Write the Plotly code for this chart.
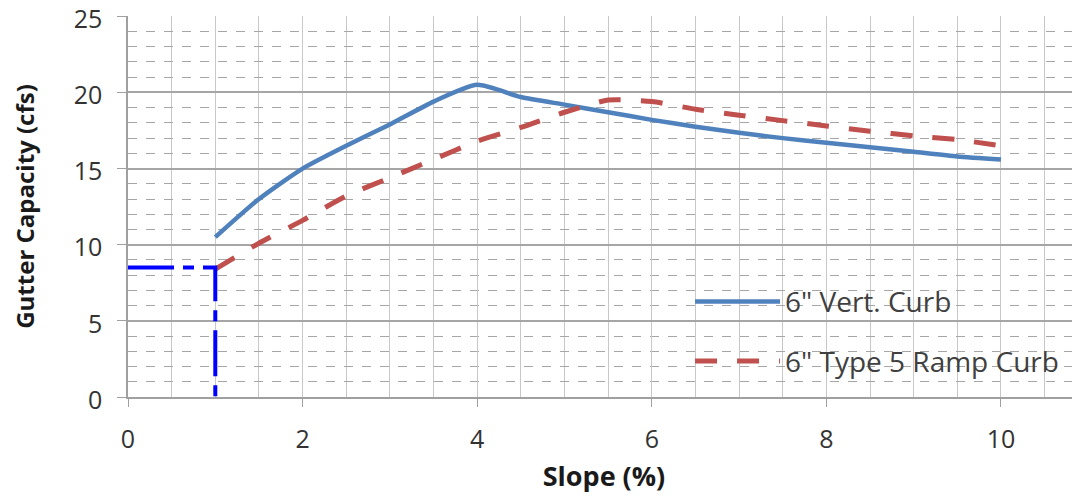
import plotly.graph_objects as go

slope = [1, 1.5, 2, 2.5, 3, 3.5, 4, 4.5, 5, 5.5, 6, 6.5, 7, 7.5, 8, 8.5, 9, 9.5, 10]
vert_curb = [10.5, 13.0, 15.0, 16.5, 17.9, 19.4, 20.5, 19.7, 19.2, 18.7, 18.2, 17.75, 17.35, 17.0, 16.7, 16.4, 16.1, 15.8, 15.6]
ramp_curb = [8.4, 10.1, 11.6, 13.2, 14.4, 15.6, 16.8, 17.7, 18.7, 19.5, 19.4, 18.9, 18.5, 18.15, 17.8, 17.45, 17.15, 16.9, 16.5]
guide_x = [0, 1, 1]
guide_y = [8.5, 8.5, 0]

FONT = "Open Sans"

fig = go.Figure()
fig.add_trace(go.Scatter(x=slope, y=vert_curb, mode="lines", name='6" Vert. Curb',
                         line=dict(color="#4F81BD", width=4.5, shape="spline", smoothing=0.6),
                         legendgroup="a"))
fig.add_trace(go.Scatter(x=slope, y=ramp_curb, mode="lines", name='6" Type 5 Ramp Curb',
                         line=dict(color="#C0504D", width=5, dash="22px,20px", shape="spline", smoothing=0.6),
                         legendgroup="b"))
fig.add_trace(go.Scatter(x=guide_x, y=guide_y, mode="lines", showlegend=False,
                         line=dict(color="#0000FF", width=4, dash="46px,9px,11px,9px")))

fig.update_layout(
    width=1080, height=500,
    margin=dict(l=120, r=8, t=8, b=111, autoexpand=False),
    paper_bgcolor="white", plot_bgcolor="white",
    font=dict(family=FONT, size=25, color="#333333"),
    showlegend=True,
    legend=dict(x=0.5904, y=0.3155, xanchor="left", yanchor="top",
                bgcolor="rgba(0,0,0,0)", font=dict(family=FONT, size=28, color="#404040"),
                itemwidth=85, tracegroupgap=20, traceorder="grouped"),
    xaxis=dict(range=[0, 10.905], tick0=0, dtick=2, ticks="outside", ticklen=8,
               tickcolor="#A0A0A0", showline=True, linecolor="#A0A0A0", linewidth=1.5,
               showgrid=True, gridcolor="#C8C8C8", gridwidth=1.2, zeroline=False,
               ticklabelstandoff=11, automargin=False,
               minor=dict(dtick=0.5, showgrid=True, gridcolor="#C8C8C8", gridwidth=1.2),
               title=dict(text="<b>Slope (%)</b>", font=dict(family=FONT, size=27, color="#1a1a1a"), standoff=13)),
    yaxis=dict(range=[0, 25.02], tick0=0, dtick=5, ticks="outside", ticklen=9,
               tickcolor="#A0A0A0", showline=True, linecolor="#A0A0A0", linewidth=1.5,
               showgrid=True, gridcolor="#A6A6A6", gridwidth=1.5, zeroline=False,
               ticklabelstandoff=10, ticklabelshift=3, automargin=False, ticklabeloverflow="allow",
               minor=dict(dtick=1, showgrid=True, gridcolor="#A6A6A6", griddash="dash", gridwidth=1),
               title=dict(text="<b>Gutter Capacity (cfs)</b>", font=dict(family=FONT, size=24, color="#1a1a1a"), standoff=32)),
)

fig.write_html("out.html")
